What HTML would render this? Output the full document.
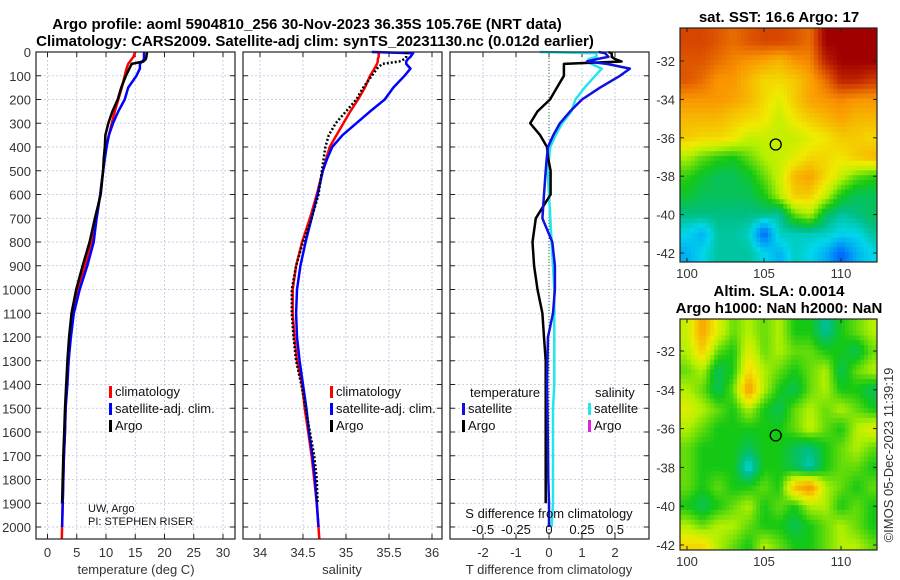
<!DOCTYPE html>
<html><head><meta charset="utf-8">
<style>
body{margin:0;background:#fff;}
svg{display:block;font-family:"Liberation Sans","DejaVu Sans",sans-serif;}
.tk{font-size:13px;fill:#333;}
.tt{font-size:15px;font-weight:bold;fill:#000;}
.lg{font-size:13px;fill:#111;}
</style></head>
<body>
<svg id="fig" width="900" height="580" viewBox="0 0 900 580"></svg>
<script>
const depths=[0,5,20,30,40,50,70,100,150,200,250,300,350,400,450,500,600,700,800,900,1000,1100,1200,1300,1400,1500,1600,1700,1800,1900,2000,2050];
const tClim=[15.0,14.9,14.7,14.4,14.1,13.8,13.5,13.2,12.7,12.1,11.5,11.0,10.5,10.0,9.7,9.5,9.0,8.4,7.6,6.4,5.1,4.3,3.9,3.6,3.3,3.1,3.0,2.8,2.7,2.6,2.5,2.45];
const tSat=[16.5,16.5,16.5,16.5,16.2,15.8,15.8,15.2,13.8,13.2,12.1,11.2,10.5,10.1,9.8,9.5,9.0,8.4,7.9,6.8,5.5,4.5,4.0,3.6,3.4,3.1,3.0,2.8,2.7,2.6,2.5,null];
const tArgo=[17.0,17.0,16.9,16.8,16.4,14.4,14.0,13.4,12.6,12.0,11.1,10.4,9.9,9.8,9.6,9.5,9.1,8.1,7.2,6.0,4.9,4.1,3.7,3.4,3.2,3.0,2.85,2.7,2.6,2.5,null,null];
const sClim=[35.38,35.38,35.38,35.37,35.37,35.36,35.33,35.28,35.22,35.14,35.05,34.97,34.89,34.81,34.77,34.73,34.66,34.58,34.49,34.42,34.38,34.38,34.40,34.43,34.49,34.52,34.56,34.60,34.63,34.66,34.68,34.69];
const sSat=[35.3,35.78,35.75,35.72,35.7,35.7,35.75,35.68,35.55,35.45,35.28,35.12,34.96,34.84,34.78,34.73,34.67,34.6,34.53,34.47,34.43,34.42,34.43,34.46,34.5,34.54,34.57,34.61,34.64,34.66,34.68,null];
const sArgo=[35.7,35.7,35.7,35.68,35.62,35.42,35.36,35.3,35.2,35.12,35.0,34.88,34.8,34.76,34.74,34.72,34.68,34.6,34.5,34.42,34.37,34.37,34.39,34.42,34.48,34.53,34.58,34.63,34.66,34.67,null,null];
const dTsat=[1.5,1.7,1.8,1.45,1.15,1.75,2.45,2.15,1.55,1.0,0.64,0.33,0.13,-0.03,-0.07,-0.1,-0.15,-0.2,0.1,0.18,0.18,0.12,-0.03,-0.05,-0.06,-0.05,-0.04,-0.03,-0.02,0,0,null];
const dTargo=[1.8,1.9,1.9,2.0,2.2,0.45,0.45,0.45,0.24,0.03,-0.35,-0.57,-0.27,-0.06,-0.02,0.05,0.05,-0.4,-0.5,-0.45,-0.35,-0.2,-0.15,-0.1,-0.1,-0.1,-0.1,-0.1,-0.1,-0.1,null,null];
const dSsat=[-0.07,0.36,0.36,0.3,0.29,0.32,0.4,0.35,0.27,0.2,0.17,0.1,0.05,0.01,0,-0.01,0,0.01,0.02,0.03,0.04,0.04,0.04,0.04,0.04,0.03,0.03,0.03,0.03,0.03,0.02,null];
const depthTicks=[0,100,200,300,400,500,600,700,800,900,1000,1100,1200,1300,1400,1500,1600,1700,1800,1900,2000];
const tTicks=[0,5,10,15,20,25,30];
const sTicks=[34,34.5,35,35.5,36];
const sTickLabels=["34","34.5","35","35.5","36"];
const dTTicks=[-2,-1,0,1,2];
const dSTickLabels=["-0.5","-0.25","0","0.25","0.5"];
const dSTicks=[-0.5,-0.25,0,0.25,0.5];
const mapLons=[100,101,102,103,104,105,106,107,108,109,110,111,112];
const mapLats=[-31,-32,-33,-34,-35,-36,-37,-38,-39,-40,-41,-42];
const lonTicks=[100,105,110];
const latTicks=[-32,-34,-36,-38,-40,-42];
const sstGrid=[
[.9,.9,.88,.85,.88,.9,.9,.88,.85,1,1,1,1],
[.88,.88,.85,.82,.8,.78,.75,.8,.82,.95,1,1,1],
[.88,.85,.8,.8,.75,.7,.7,.72,.78,.85,.95,.95,.92],
[.8,.8,.8,.78,.75,.7,.65,.72,.78,.8,.82,.8,.8],
[.75,.75,.75,.72,.7,.68,.62,.68,.72,.75,.78,.75,.75],
[.72,.7,.7,.68,.62,.62,.62,.62,.65,.68,.72,.72,.7],
[.6,.55,.52,.5,.55,.6,.62,.65,.7,.7,.68,.72,.75],
[.52,.48,.45,.45,.48,.55,.62,.75,.78,.7,.62,.55,.52],
[.48,.45,.45,.45,.45,.5,.6,.72,.72,.62,.5,.45,.45],
[.42,.42,.42,.42,.42,.42,.4,.55,.6,.45,.4,.42,.45],
[.35,.3,.4,.4,.38,.2,.38,.38,.38,.38,.35,.35,.4],
[.3,.35,.4,.4,.4,.35,.3,.38,.35,.3,.2,.3,.35]];
const slaGrid=[
[.62,.78,.65,.55,.6,.55,.6,.5,.5,.4,.5,.55,.6],
[.6,.72,.55,.5,.65,.55,.6,.55,.55,.5,.5,.45,.55],
[.55,.6,.45,.5,.7,.6,.55,.5,.55,.6,.45,.55,.6],
[.6,.55,.45,.55,.8,.6,.5,.45,.55,.6,.5,.5,.45],
[.65,.6,.55,.5,.6,.5,.45,.55,.6,.55,.6,.55,.5],
[.6,.55,.5,.5,.5,.5,.5,.55,.62,.55,.5,.6,.65],
[.55,.5,.5,.5,.45,.5,.5,.45,.42,.5,.55,.6,.55],
[.55,.5,.5,.5,.35,.5,.5,.45,.38,.5,.55,.55,.5],
[.55,.5,.55,.5,.5,.55,.5,.75,.82,.6,.55,.5,.55],
[.5,.45,.5,.55,.6,.5,.55,.5,.6,.6,.5,.55,.5],
[.6,.55,.6,.6,.55,.5,.5,.45,.5,.55,.6,.55,.5],
[.7,.7,.6,.55,.5,.6,.55,.5,.5,.55,.6,.6,.55]];
const argoLon=105.76, argoLat=-36.35;

const NS="http://www.w3.org/2000/svg";
const svg=document.getElementById('fig');
function mk(tag,attrs,parent){const e=document.createElementNS(NS,tag);for(const k in attrs)e.setAttribute(k,attrs[k]);(parent||svg).appendChild(e);return e;}
function txt(s,x,y,cls,anchor,parent){const e=mk('text',{x:x,y:y,class:cls,'text-anchor':anchor||'start'},parent);e.textContent=s;return e;}
function lin(d0,d1,r0,r1){return v=>r0+(v-d0)*(r1-r0)/(d1-d0);}
const yD=lin(0,2000,52,527);
const PT=52,PB=539;

function panel(name,x0,x1,xs,ticks,labels,showY){
  const g=mk('g',{});
  
  
  ticks.forEach(t=>{const x=xs(t);mk('line',{x1:x,x2:x,y1:PT,y2:PB,stroke:'#b8c4e0','stroke-width':0.8,'stroke-dasharray':'2,2'},g);});
  depthTicks.forEach(d=>{const y=yD(d);mk('line',{x1:x0,x2:x1,y1:y,y2:y,stroke:'#b8c4e0','stroke-width':0.8,'stroke-dasharray':'2,2'},g);
    mk('line',{x1:x0,x2:x0+5,y1:y,y2:y,stroke:'#222'},g);mk('line',{x1:x1-5,x2:x1,y1:y,y2:y,stroke:'#222'},g);
    if(showY){const t=txt(String(d),31,y+5,'tk','end',g);}});
  ticks.forEach((t,i)=>{const x=xs(t);mk('line',{x1:x,x2:x,y1:PB-5,y2:PB,stroke:'#222'},g);mk('line',{x1:x,x2:x,y1:PT,y2:PT+5,stroke:'#222'},g);
    const l=txt(labels[i],x,557,'tk','middle',g);});
  return g;
}
function series(g,name,vals,xs,color,w,dash){
  let d='';let pen=false;
  vals.forEach((v,i)=>{if(v===null){pen=false;return;}d+=(pen?'L':'M')+xs(v).toFixed(1)+','+yD(depths[i]).toFixed(1);pen=true;});
  const p=mk('path',{d:d,fill:'none',stroke:color,'stroke-width':w,'stroke-linejoin':'round'},g);
  if(dash)p.setAttribute('stroke-dasharray',dash);
  
  
  return p;
}
function frame(g,x0,x1){mk('rect',{x:x0,y:PT,width:x1-x0,height:PB-PT,fill:'none',stroke:'#222','stroke-width':1.2},g);}
function legend(g,x,y,items){items.forEach((it,i)=>{const yy=y+i*17;
  mk('rect',{x:x,y:yy-10,width:3,height:12,fill:it[1]},g);
  const t=txt(it[0],x+6,yy,'lg','start',g);});}

let t1=txt('Argo profile: aoml 5904810_256 30-Nov-2023 36.35S 105.76E (NRT data)',307,29,'tt','middle');

let t2=txt('Climatology: CARS2009. Satellite-adj clim: synTS_20231130.nc (0.012d earlier)',315,46,'tt','middle');


const xT=lin(0,30,47.5,223);
const g1=panel('temperature-panel',36,235,xT,tTicks,tTicks.map(String),true);
series(g1,'temp-climatology-line',tClim,xT,'#ff0000',2.5);
series(g1,'temp-satellite-line',tSat,xT,'#0000ff',2.5);
series(g1,'temp-argo-line',tArgo,xT,'#000000',2.5);
frame(g1,36,235);
legend(g1,109,396,[['climatology','#ff0000'],['satellite-adj. clim.','#0000ff'],['Argo','#000']]);
txt('UW, Argo',88,512,'lg','start',g1).style.fontSize='11px';
txt('PI: STEPHEN RISER',88,525,'lg','start',g1).style.fontSize='11px';
let xl1=txt('temperature (deg C)',136,574,'tk','middle');

const xS=lin(34,36,260,432);
const g2=panel('salinity-panel',243,442,xS,sTicks,sTickLabels,false);
series(g2,'sal-climatology-line',sClim,xS,'#ff0000',2.5);
series(g2,'sal-satellite-line',sSat,xS,'#0000ff',2.5);
series(g2,'sal-argo-line',sArgo,xS,'#000000',2.5,'2,2');
frame(g2,243,442);
legend(g2,330,396,[['climatology','#ff0000'],['satellite-adj. clim.','#0000ff'],['Argo','#000']]);
let xl2=txt('salinity',342,574,'tk','middle');

const xdT=lin(0,2,549,615);
const xdS=lin(0,0.5,549,615);
const g3=panel('difference-panel',450,649,xdT,dTTicks,dTTicks.map(String),false);
mk('line',{x1:xdT(0),x2:xdT(0),y1:PT,y2:PB,stroke:'#336633','stroke-width':1,'stroke-dasharray':'1,2'},g3);
series(g3,'sal-satellite-diff-line',dSsat,xdS,'#22e5ee',2.5);
series(g3,'temp-argo-diff-line',dTargo,xdT,'#000000',2.5);
series(g3,'temp-satellite-diff-line',dTsat,xdT,'#1010e0',2.5);
frame(g3,450,649);
txt('temperature',470,397,'lg','start',g3);
legend(g3,462,413,[['satellite','#1010e0'],['Argo','#000']]);
txt('salinity',595,397,'lg','start',g3);
legend(g3,588,413,[['satellite','#22e5ee'],['Argo','#e020e0']]);
txt('S difference from climatology',549,518,'lg','middle',g3);
dSTicks.forEach((s,i)=>{const l=txt(dSTickLabels[i],xdS(s),534,'lg','middle',g3);});
let xl3=txt('T difference from climatology',549,574,'tk','middle');

const cmapStops=[[0,[0,0,140]],[0.2,[0,100,255]],[0.35,[0,215,235]],[0.42,[0,190,130]],[0.5,[20,200,20]],[0.6,[180,240,0]],[0.67,[240,235,0]],[0.8,[250,150,0]],[0.9,[215,70,0]],[1,[160,0,0]]];
function cmap(v){v=Math.max(0,Math.min(1,v));
  for(let i=1;i<cmapStops.length;i++){if(v<=cmapStops[i][0]){const a=cmapStops[i-1],b=cmapStops[i],f=(v-a[0])/(b[0]-a[0]);
    return 'rgb('+[0,1,2].map(k=>Math.round(a[1][k]+(b[1][k]-a[1][k])*f)).join(',')+')';}}
  return 'rgb(160,0,0)';}
function sample(grid,fr,fc){
  fr=Math.max(0,Math.min(grid.length-1,fr));fc=Math.max(0,Math.min(grid[0].length-1,fc));
  const r0=Math.floor(fr),c0=Math.floor(fc),r1=Math.min(r0+1,grid.length-1),c1=Math.min(c0+1,grid[0].length-1);
  const a=fr-r0,b=fc-c0;
  return grid[r0][c0]*(1-a)*(1-b)+grid[r0][c1]*(1-a)*b+grid[r1][c0]*a*(1-b)+grid[r1][c1]*a*b;}
function map(name,grid,top,bottom,latAt,latPx){
  const g=mk('g',{});
  
  
  const xL=lin(100,110,687,841);
  const yL=lin(latAt[0],latAt[1],latPx[0],latPx[1]);
  const cid='clip-'+name;
  const cp=mk('clipPath',{id:cid},g);mk('rect',{x:680,y:top,width:197,height:bottom-top},cp);
  const cells=mk('g',{'clip-path':'url(#'+cid+')'},g);
  const sub=4, st=1/sub;
  const lon0=mapLons[0]-0.5, lat0=mapLats[0]+0.8;
  for(let la=lat0; la>mapLats[mapLats.length-1]-0.5; la-=st){
    for(let lo=lon0; lo<mapLons[mapLons.length-1]+0.5; lo+=st){
      const fr=(mapLats[0]-(la-st/2)), fc=(lo+st/2-mapLons[0]);
      const cell=mk('rect',{x:xL(lo).toFixed(1),y:yL(la).toFixed(1),width:(xL(lo+st)-xL(lo)+0.4).toFixed(1),height:(yL(la-st)-yL(la)+0.4).toFixed(1),fill:cmap(sample(grid,fr,fc))},cells);
      
      
    }
  }
  mk('rect',{x:680,y:top,width:197,height:bottom-top,fill:'none',stroke:'#222','stroke-width':1.2},g);
  lonTicks.forEach(lo=>{const x=xL(lo);mk('line',{x1:x,x2:x,y1:bottom-4,y2:bottom,stroke:'#222'},g);mk('line',{x1:x,x2:x,y1:top,y2:top+4,stroke:'#222'},g);
    txt(String(lo),x,bottom+16,'tk','middle',g);});
  latTicks.forEach(la=>{const y=yL(la);mk('line',{x1:680,x2:684,y1:y,y2:y,stroke:'#222'},g);mk('line',{x1:873,x2:877,y1:y,y2:y,stroke:'#222'},g);
    txt(String(la),675,y+5,'tk','end',g);});
  const m=mk('circle',{cx:xL(argoLon),cy:yL(argoLat),r:5.5,fill:'none',stroke:'#000','stroke-width':1.3},g);
  
  
  return g;
}
map('sst-map',sstGrid,28,262,[-32,-42],[61,253]);
map('sla-map',slaGrid,319,550,[-32,-42],[351,545]);
let mt1=txt('sat. SST: 16.6 Argo: 17',779,22,'tt','middle');
let mt2=txt('Altim. SLA: 0.0014',779,296,'tt','middle');
let mt3=txt('Argo h1000: NaN h2000: NaN',779,313,'tt','middle');
let cr=txt('©IMOS 05-Dec-2023 11:39:19',0,0,'tk','middle');
cr.setAttribute('transform','translate(893,455) rotate(-90)');

</script>
</body></html>
